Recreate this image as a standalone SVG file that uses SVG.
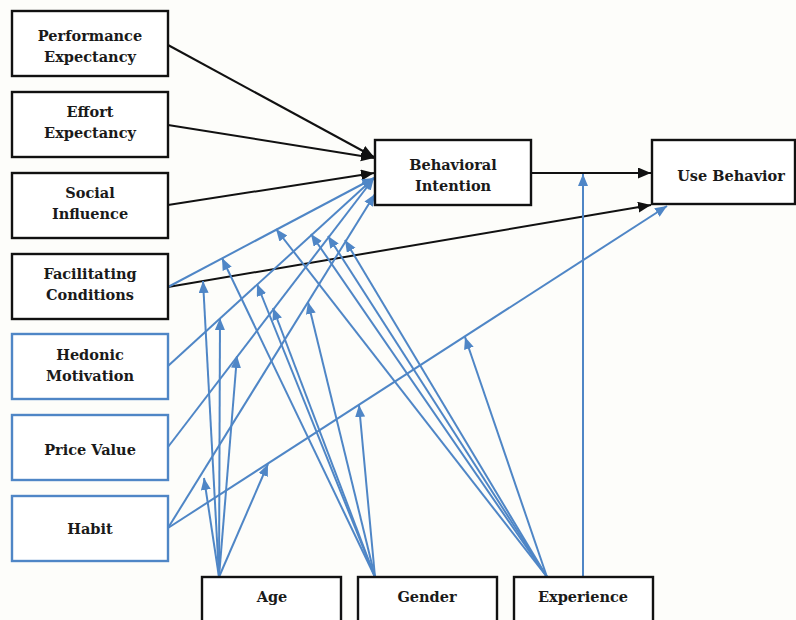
<svg xmlns="http://www.w3.org/2000/svg" width="796" height="620" viewBox="0 0 796 620">
<defs>
<marker id="ab" markerUnits="userSpaceOnUse" markerWidth="14" markerHeight="12" refX="13" refY="5.5" orient="auto"><path d="M0,0 L13,5.5 L0,11 z" fill="#111"/></marker>
<marker id="au" markerUnits="userSpaceOnUse" markerWidth="14" markerHeight="11" refX="12" refY="5" orient="auto"><path d="M0,0 L12,5 L0,10 z" fill="#4f86c6"/></marker>
</defs>
<style>
.bk{fill:#fff;stroke:#111;stroke-width:2.4}
.bl{fill:#fff;stroke:#4f86c6;stroke-width:2.4}
.t{font-family:"DejaVu Serif","Liberation Serif",serif;font-weight:bold;font-size:14.5px;fill:#1a1a1a;text-anchor:middle}
.cb{fill:none;stroke:#111;stroke-width:2;marker-end:url(#ab)}
.cu{fill:none;stroke:#4f86c6;stroke-width:2;marker-end:url(#au)}
</style>
<rect width="796" height="620" fill="#fdfdfa"/>
<g id="connectors">
<path class="cb" d="M168,45 L374,157"/>
<path class="cb" d="M168,125 L374,158"/>
<path class="cb" d="M168,205 L374,173"/>
<path class="cb" d="M168,287 L651,205"/>
<path class="cb" d="M531,173 L651,173"/>
<path class="cu" d="M168,287 L374,178"/>
<path class="cu" d="M168,366 L374,178"/>
<path class="cu" d="M168,447 L374,178"/>
<path class="cu" d="M168,528 L375,194"/>
<path class="cu" d="M168,528 L667,206"/>
<path class="cu" d="M583,577 L583,174"/>
<path class="cu" d="M219,577 L204,478"/>
<path class="cu" d="M219,577 L203,281"/>
<path class="cu" d="M219,577 L220,318"/>
<path class="cu" d="M219,577 L237,356"/>
<path class="cu" d="M219,577 L268,464"/>
<path class="cu" d="M375,577 L222,258"/>
<path class="cu" d="M375,577 L257,284"/>
<path class="cu" d="M375,577 L273,308"/>
<path class="cu" d="M375,577 L308,302"/>
<path class="cu" d="M375,577 L359,405"/>
<path class="cu" d="M547,577 L276,229"/>
<path class="cu" d="M547,577 L311,234"/>
<path class="cu" d="M547,577 L328,236"/>
<path class="cu" d="M547,577 L345,240"/>
<path class="cu" d="M547,577 L465,337"/>
</g>
<g id="pe"><rect class="bk" x="12" y="11" width="156" height="65"/><text class="t" x="90" y="41">Performance</text><text class="t" x="90" y="62">Expectancy</text></g>
<g id="ee"><rect class="bk" x="12" y="92" width="156" height="65"/><text class="t" x="90" y="117">Effort</text><text class="t" x="90" y="138">Expectancy</text></g>
<g id="si"><rect class="bk" x="12" y="173" width="156" height="65"/><text class="t" x="90" y="198">Social</text><text class="t" x="90" y="219">Influence</text></g>
<g id="fc"><rect class="bk" x="12" y="254" width="156" height="65"/><text class="t" x="90" y="279">Facilitating</text><text class="t" x="90" y="300">Conditions</text></g>
<g id="hm"><rect class="bl" x="12" y="334" width="156" height="65"/><text class="t" x="90" y="360">Hedonic</text><text class="t" x="90" y="381">Motivation</text></g>
<g id="pv"><rect class="bl" x="12" y="415" width="156" height="65"/><text class="t" x="90" y="455">Price Value</text></g>
<g id="ht"><rect class="bl" x="12" y="496" width="156" height="65"/><text class="t" x="90" y="534">Habit</text></g>
<g id="bi"><rect class="bk" x="375" y="140" width="156" height="65"/><text class="t" x="453" y="170">Behavioral</text><text class="t" x="453" y="191">Intention</text></g>
<g id="ub"><rect class="bk" x="652" y="140" width="143" height="64"/><text class="t" x="731" y="181">Use Behavior</text></g>
<g id="age"><rect class="bk" x="202" y="577" width="139" height="60"/><text class="t" x="272" y="602">Age</text></g>
<g id="gender"><rect class="bk" x="358" y="577" width="139" height="60"/><text class="t" x="427" y="602">Gender</text></g>
<g id="exp"><rect class="bk" x="514" y="577" width="139" height="60"/><text class="t" x="583" y="602">Experience</text></g>
</svg>
